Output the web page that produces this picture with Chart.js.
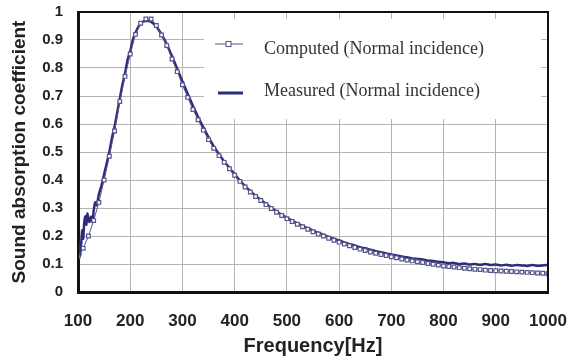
<!DOCTYPE html>
<html>
<head>
<meta charset="utf-8">
<script src="https://cdn.jsdelivr.net/npm/chart.js@4/dist/chart.umd.min.js"></script>
<style>
  html, body { margin: 0; padding: 0; background: #fff; }
  #wrap { width: 577px; height: 358px; position: relative; }
</style>
</head>
<body>
<div id="wrap"><canvas id="chart"></canvas></div>
<script>
// computed curve, markers every 10 Hz
const computedHz = [100,110,120,130,140,150,160,170,180,190,200,210,220,230,240,250,260,270,280,290,
  300,310,320,330,340,350,360,370,380,390,400,410,420,430,440,450,460,470,480,490,
  500,510,520,530,540,550,560,570,580,590,600,610,620,630,640,650,660,670,680,690,
  700,710,720,730,740,750,760,770,780,790,800,810,820,830,840,850,860,870,880,890,
  900,910,920,930,940,950,960,970,980,990,1000];
const computedAlpha = [0.126,0.156,0.20,0.255,0.32,0.40,0.485,0.575,0.68,0.77,0.85,0.92,0.96,0.975,0.975,0.952,0.918,0.88,0.832,0.787,
  0.74,0.695,0.652,0.615,0.578,0.544,0.513,0.487,0.463,0.44,0.417,0.395,0.375,0.357,0.341,0.327,0.312,0.298,0.285,0.273,
  0.262,0.252,0.242,0.233,0.224,0.215,0.207,0.20,0.192,0.185,0.178,0.171,0.165,0.159,0.153,0.148,0.143,0.138,0.134,0.13,
  0.126,0.122,0.118,0.114,0.111,0.108,0.105,0.102,0.099,0.096,0.093,0.091,0.089,0.087,0.085,0.083,0.081,0.08,0.078,0.077,
  0.076,0.075,0.074,0.073,0.072,0.071,0.07,0.069,0.068,0.067,0.065];

// measured curve
const measuredHz = [100,102,104,106,108,110,112,114,116,118,120,122,125,128,130,133,136,140,145,150,
  155,160,165,170,175,180,185,190,195,200,205,210,215,220,225,230,235,240,245,250,255,260,270,280,290,
  300,310,320,330,340,350,360,370,380,390,400,410,420,430,440,450,460,470,480,490,
  500,510,520,530,540,550,560,570,580,590,600,610,620,630,640,650,660,670,680,690,
  700,710,720,730,740,750,760,770,780,790,800,810,820,830,840,850,860,870,880,890,
  900,910,920,930,940,950,960,970,980,990,1000];
const measuredAlpha = [0.20,0.14,0.13,0.17,0.22,0.19,0.25,0.27,0.24,0.28,0.26,0.25,0.27,0.25,0.29,0.32,0.31,0.35,0.38,0.42,
  0.46,0.50,0.55,0.59,0.64,0.69,0.74,0.78,0.83,0.86,0.90,0.925,0.945,0.958,0.966,0.968,0.968,0.965,0.958,0.948,0.935,0.92,0.885,0.842,0.797,
  0.752,0.708,0.665,0.625,0.588,0.552,0.52,0.492,0.466,0.443,0.42,0.398,0.378,0.36,0.344,0.329,0.315,0.301,0.288,0.276,
  0.265,0.255,0.245,0.236,0.228,0.219,0.212,0.204,0.197,0.19,0.184,0.177,0.171,0.166,0.16,0.156,0.151,0.146,0.142,0.138,
  0.134,0.13,0.127,0.124,0.12,0.118,0.116,0.112,0.111,0.108,0.106,0.103,0.104,0.10,0.102,0.098,0.10,0.097,0.10,0.096,
  0.098,0.095,0.097,0.094,0.096,0.095,0.093,0.096,0.094,0.095,0.097];

const legendLabels = ['Computed (Normal incidence)', 'Measured (Normal incidence)'];

const navy = '#2d2b7c';
const compColor = '#55558a';

// white legend box over the grid, frame, and legend entries
const legendBox = {
  id: 'legendBox',
  beforeDatasetsDraw(chart) {
    const a = chart.chartArea, c = chart.ctx;
    c.save();
    c.fillStyle = '#fff';
    c.fillRect(a.left + 126, a.top + 7, a.right - a.left - 133, 100);
    c.restore();
  },
  afterDraw(chart) {
    const a = chart.chartArea, c = chart.ctx;
    c.save();
    c.strokeStyle = '#111';
    c.lineWidth = 2;
    c.strokeRect(a.left, a.top, a.right - a.left, a.bottom - a.top);
    // computed entry
    let x = a.left + 137, y = a.top + 32;
    c.strokeStyle = compColor; c.lineWidth = 1;
    c.beginPath(); c.moveTo(x, y); c.lineTo(x + 28, y); c.stroke();
    c.fillStyle = '#fff';
    c.fillRect(x + 11, y - 2.5, 5, 5); c.strokeRect(x + 11, y - 2.5, 5, 5);
    // measured entry
    y = a.top + 81;
    c.strokeStyle = navy; c.lineWidth = 3;
    c.beginPath(); c.moveTo(x + 3, y); c.lineTo(x + 28, y); c.stroke();
    c.fillStyle = '#333';
    c.font = '18px "Liberation Serif", "Times New Roman", serif';
    c.textBaseline = 'middle';
    c.fillText(legendLabels[0], a.left + 186, a.top + 37);
    c.fillText(legendLabels[1], a.left + 186, a.top + 79);
    c.restore();
  }
};

new Chart(document.getElementById('chart'), {
  type: 'line',
  data: {
    datasets: [
      {
        label: legendLabels[0],
        data: computedHz.map((f, i) => ({ x: f, y: computedAlpha[i] })),
        borderColor: compColor,
        borderWidth: 1,
        pointStyle: 'rect',
        pointRadius: 2.6,
        pointBackgroundColor: '#fff',
        pointBorderColor: compColor,
        pointBorderWidth: 1.2,
        tension: 0,
        order: 0
      },
      {
        label: legendLabels[1],
        data: measuredHz.map((f, i) => ({ x: f, y: measuredAlpha[i] })),
        borderColor: navy,
        borderWidth: 2.5,
        pointRadius: 0,
        tension: 0.2,
        order: 1
      }
    ]
  },
  options: {
    responsive: true,
    maintainAspectRatio: false,
    animation: false,
    layout: { padding: { top: 12, right: 29, left: 0, bottom: 0 } },
    plugins: { legend: { display: false }, tooltip: { enabled: false } },
    scales: {
      x: {
        type: 'linear',
        min: 100, max: 1000,
        afterFit(s) { s.height = 66; s.paddingLeft = 0; s.paddingRight = 0; },
        ticks: {
          stepSize: 100,
          padding: 19,
          color: '#222',
          font: { family: '"Liberation Sans", Arial, sans-serif', size: 17, weight: 'bold' },
          callback: v => String(v)
        },
        grid: { color: '#b4b4b4', lineWidth: 1, drawTicks: false },
        border: { color: '#111', width: 3 },
        title: {
          display: true,
          text: 'Frequency[Hz]',
          color: '#222',
          padding: { top: 2, bottom: 0 },
          font: { family: '"Liberation Sans", Arial, sans-serif', size: 20, weight: 'bold' }
        }
      },
      y: {
        min: 0, max: 1,
        afterFit(s) { s.width = 78; s.paddingTop = 0; s.paddingBottom = 0; },
        ticks: {
          stepSize: 0.1,
          padding: 15,
          color: '#222',
          font: { family: '"Liberation Sans", Arial, sans-serif', size: 15, weight: 'bold' },
          callback: v => { const r = Math.round(v * 10) / 10; return r === 0 ? '0' : r === 1 ? '1' : r.toFixed(1); }
        },
        grid: { color: '#b4b4b4', lineWidth: 1, drawTicks: false },
        border: { color: '#111', width: 3 },
        title: {
          display: true,
          text: 'Sound absorption coefficient',
          color: '#222',
          padding: { top: 8, bottom: 0 },
          font: { family: '"Liberation Sans", Arial, sans-serif', size: 19, weight: 'bold' }
        }
      }
    }
  },
  plugins: [legendBox]
});
</script>
</body>
</html>
